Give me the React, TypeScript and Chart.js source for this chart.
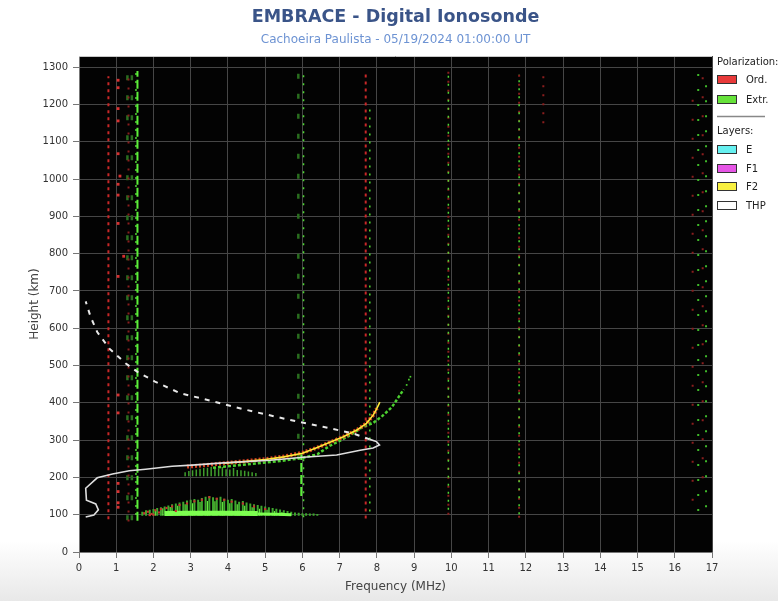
import React, { useEffect, useRef } from "react";
import { Chart, registerables } from "chart.js";
Chart.register(...registerables);

// ---- tick labels ----
const xTicks = [0, 1, 2, 3, 4, 5, 6, 7, 8, 9, 10, 11, 12, 13, 14, 15, 16, 17];
const yTicks = [0, 100, 200, 300, 400, 500, 600, 700, 800, 900, 1000, 1100, 1200, 1300];

// ---- THP (true height profile) ----
const thpSolidFreq = [0.18, 0.4, 0.52, 0.45, 0.2, 0.18, 0.49, 0.9, 1.35, 1.79, 2.5, 3.04, 3.88, 5.13, 6.02, 6.92, 7.55, 7.9, 8.07, 7.99, 7.81];
const thpSolidHeight = [94, 99, 113, 129, 139, 171, 199, 209, 218, 222, 230, 233, 239, 246, 254, 260, 273, 279, 287, 296, 302];
const thpDashFreq = [7.81, 7.36, 6.55, 5.58, 4.41, 3.52, 2.71, 2.04, 1.57, 1.25, 0.81, 0.49, 0.31, 0.18];
const thpDashHeight = [302, 318, 336, 356, 383, 406, 426, 457, 483, 506, 546, 590, 631, 672];

// ---- F2 layer trace ----
const f2Freq = [3.9, 4.5, 5.0, 5.5, 6.0, 6.4, 6.74, 7.1, 7.46, 7.72, 7.9, 8.0, 8.08];
const f2Height = [238, 243, 248, 255, 265, 280, 294, 309, 327, 345, 367, 385, 402];

// ---- ordinary / extraordinary echo traces ----
const oEchoFreq = [2.9, 3.3, 3.7, 4.1, 4.5, 5.0, 5.5, 6.0, 6.4, 6.74, 7.1, 7.46, 7.72, 7.9, 8.0];
const oEchoHeight = [229, 232, 236, 240, 244, 249, 256, 266, 280, 294, 309, 327, 345, 367, 385];
const xEchoFreq = [3.6, 4.2, 4.8, 5.4, 6.0, 6.4, 6.74, 7.0, 7.28, 7.63, 7.9, 8.15, 8.4, 8.6, 8.72];
const xEchoHeight = [226, 232, 238, 244, 252, 262, 285, 298, 313, 336, 346, 365, 388, 418, 436];
const xSparseFreq = [8.8, 8.86, 8.9];
const xSparseHeight = [448, 462, 470];

// ---- E layer echoes ----
const eBase = 97;
const eFreq = [1.7, 1.8, 1.9, 2.0, 2.1, 2.2, 2.3, 2.4, 2.5, 2.6, 2.7, 2.8, 2.9, 3.0, 3.1, 3.2, 3.3, 3.4, 3.5, 3.6, 3.7, 3.8, 3.9, 4.0, 4.1, 4.2, 4.3, 4.4, 4.5, 4.6, 4.7, 4.8, 4.9, 5.0, 5.1, 5.2, 5.3, 5.4, 5.5, 5.6, 5.7, 5.8, 5.9, 6.0, 6.1, 6.2, 6.3, 6.4];
const eTop = [108, 112, 113, 115, 118, 120, 122, 125, 128, 130, 133, 135, 138, 140, 142, 140, 145, 148, 150, 147, 145, 148, 143, 140, 142, 138, 135, 137, 133, 130, 128, 126, 124, 122, 120, 118, 116, 114, 112, 110, 108, 106, 105, 104, 104, 103, 103, 102];
const eMidFreq = [2.05, 2.25, 2.45, 2.65, 2.85, 3.05, 3.25, 3.45, 3.65, 3.85, 4.05, 4.25, 4.45, 4.65, 4.85, 5.05, 5.25, 5.45];
const eMidTop = [112, 117, 121, 124, 128, 131, 134, 137, 136, 134, 131, 128, 124, 120, 116, 113, 110, 107];
const eBandFreq = [2.3, 3.0, 4.0, 4.8];
const eBandHeight = [103, 104, 104, 103];
const eTailFreq = [4.8, 5.3, 5.7];
const eTailHeight = [102, 101, 100];
const eRedFreq = [1.75, 1.85, 1.95, 2.05, 2.2, 2.35, 2.5, 2.7, 2.9, 3.1, 3.3, 3.5, 3.7, 3.9, 4.1, 4.4, 4.7, 5.0, 2.15, 2.6, 1.9, 2.0];
const eRedHeight = [104, 108, 102, 112, 115, 118, 122, 126, 130, 136, 140, 147, 143, 140, 135, 130, 122, 115, 106, 110, 99, 100];

// ---- F layer bottom (spread) echoes ----
const fsBase = 203;
const fsFreq = [2.85, 2.95, 3.05, 3.15, 3.25, 3.35, 3.45, 3.55, 3.65, 3.75, 3.85, 3.95, 4.05, 4.15, 4.25, 4.35, 4.45, 4.55, 4.65, 4.75];
const fsTop = [214, 217, 219, 221, 223, 225, 226, 228, 226, 224, 228, 222, 221, 225, 220, 219, 218, 216, 214, 212];

// ---- interference columns ----
const ordColFreq = [0.79, 7.7];
const ordColLow = [88, 90];
const ordColHigh = [1276, 1290];
const ordFaintFreq = [1.33, 9.92, 11.82, 12.47];
const ordFaintLow = [82, 100, 92, 1150];
const ordFaintHigh = [1285, 1288, 1283, 1290];
const ordSparseFreq = [16.48, 16.75];
const ordSparseLow = [100, 160];
const ordSparseHigh = [1240, 1290];
const ordSquareFreq = [1.05, 1.05, 1.05, 1.05, 1.05, 1.1, 1.05, 1.05, 1.05, 1.2, 1.05, 1.05, 1.05, 1.05, 1.05, 1.05, 1.05];
const ordSquareHeight = [1265, 1245, 1189, 1156, 1068, 1008, 986, 957, 881, 793, 739, 421, 373, 184, 162, 132, 120];
const extBrightFreq = [1.57, 5.97];
const extBrightLow = [84, 150];
const extBrightHigh = [1290, 262];
const extDotFreq = [1.53, 6.03, 7.81, 9.92, 11.82];
const extDotLow = [86, 80, 95, 100, 88];
const extDotHigh = [1290, 1290, 1200, 1288, 1282];
const extSparseFreq = [16.63, 16.84];
const extSparseLow = [110, 120];
const extSparseHigh = [1290, 1280];
const extDarkFreq = [1.3, 1.42, 5.89];
const extDarkLow = [85, 85, 250];
const extDarkHigh = [1290, 1290, 1290];

const seg = (f: number[], lo: number[], hi: number[]) => {
  const out: any[] = [];
  f.forEach((x, i) => {
    out.push({ x, y: lo[i] }, { x, y: hi[i] }, { x, y: null });
  });
  return out;
};
const pts = (f: number[], h: number[]) => f.map((x, i) => ({ x, y: h[i] }));

const FONT = '"DejaVu Sans", "Liberation Sans", sans-serif';

const decorPlugin = {
  id: "decor",
  beforeDraw(chart: any) {
    const { ctx, chartArea: a } = chart;
    ctx.save();
    ctx.fillStyle = "#030303";
    ctx.fillRect(a.left, a.top, a.right - a.left, a.bottom - a.top);
    ctx.restore();
  },
  afterDraw(chart: any) {
    const { ctx, chartArea: a } = chart;
    ctx.save();
    ctx.strokeStyle = "#c8c8c8";
    ctx.lineWidth = 1;
    ctx.beginPath();
    ctx.moveTo(a.left, a.top + 0.5);
    ctx.lineTo(a.right, a.top + 0.5);
    ctx.stroke();
    const cx = (a.left + a.right) / 2;
    ctx.textAlign = "center";
    ctx.textBaseline = "middle";
    ctx.fillStyle = "#3a5488";
    ctx.font = `bold 17.5px ${FONT}`;
    ctx.fillText("EMBRACE - Digital Ionosonde", cx, 17);
    ctx.fillStyle = "#6d93d3";
    ctx.font = `12px ${FONT}`;
    ctx.fillText("Cachoeira Paulista - 05/19/2024 01:00:00 UT", cx, 40);
    ctx.textAlign = "left";
    ctx.font = `10px ${FONT}`;
    ctx.fillStyle = "#222";
    const lx = 717;
    ctx.fillText("Polarization:", lx, 62);
    const box = (y: number, c: string, label: string) => {
      ctx.fillStyle = c;
      ctx.fillRect(lx + 0.5, y + 0.5, 19, 8);
      ctx.strokeStyle = "#333";
      ctx.lineWidth = 1;
      ctx.strokeRect(lx + 0.5, y + 0.5, 19, 8);
      ctx.fillStyle = "#222";
      ctx.fillText(label, 746, y + 5);
    };
    box(75, "#e83a3a", "Ord.");
    box(95, "#66e23a", "Extr.");
    ctx.strokeStyle = "#888";
    ctx.lineWidth = 1.5;
    ctx.beginPath();
    ctx.moveTo(lx, 116.5);
    ctx.lineTo(765, 116.5);
    ctx.stroke();
    ctx.fillStyle = "#222";
    ctx.fillText("Layers:", lx, 131);
    box(145, "#66f0f0", "E");
    box(164, "#e655e6", "F1");
    box(182, "#f8f040", "F2");
    box(201, "#ffffff", "THP");
    ctx.restore();
  },
};

export default function App() {
  const ref = useRef<HTMLCanvasElement>(null);
  useEffect(() => {
    if (!ref.current) return;
    const lineDs = (data: any[], color: string, width: number, dash: number[] = [], order = 10, dashOffset = 0) => ({
      data,
      showLine: true,
      borderColor: color,
      backgroundColor: color,
      borderWidth: width,
      borderDash: dash,
      borderDashOffset: dashOffset,
      pointRadius: 0,
      spanGaps: false,
      borderCapStyle: "butt",
      order,
    });
    const chart = new Chart(ref.current, {
      type: "scatter",
      data: {
        datasets: [
          lineDs(seg(extDarkFreq, extDarkLow, extDarkHigh), "#2a6e1f", 2.5, [5, 15], 30),
          lineDs(seg(ordFaintFreq, ordFaintLow, ordFaintHigh), "#8a1e1e", 2, [2, 7], 29),
          lineDs(seg(ordSparseFreq, ordSparseLow, ordSparseHigh), "#8a1e1e", 2, [2, 17], 29, 5),
          lineDs(seg(extDotFreq, extDotLow, extDotHigh), "#4fd634", 1.5, [2, 6], 28, 3),
          lineDs(seg(extSparseFreq, extSparseLow, extSparseHigh), "#3fb82a", 2, [2, 13], 28),
          lineDs(seg(extBrightFreq, extBrightLow, extBrightHigh), "#5cf03a", 2, [9, 3], 27),
          lineDs(seg(ordColFreq, ordColLow, ordColHigh), "#c82828", 2, [3, 4], 26),
          {
            data: pts(ordSquareFreq, ordSquareHeight),
            pointStyle: "rect",
            pointRadius: 2,
            backgroundColor: "#d83030",
            borderWidth: 0,
            order: 25,
          },
          lineDs(seg(eFreq, eFreq.map(() => eBase), eTop), "#3ea82d", 2, [], 21),
          lineDs(seg(eMidFreq, eMidFreq.map(() => eBase), eMidTop), "#66e83f", 1.2, [], 20),
          lineDs(pts(eBandFreq, eBandHeight), "#7dff50", 5, [], 19),
          lineDs(pts(eTailFreq, eTailHeight), "#7dff50", 3, [], 19),
          {
            data: pts(eRedFreq, eRedHeight),
            pointStyle: "rect",
            pointRadius: 1.5,
            backgroundColor: "#c83030",
            borderWidth: 0,
            order: 18,
          },
          lineDs(seg(fsFreq, fsFreq.map(() => fsBase), fsTop), "#3f9e2c", 1.5, [], 17),
          lineDs(pts(xEchoFreq, xEchoHeight), "#4cd030", 2.5, [3, 2], 8),
          {
            data: pts(xSparseFreq, xSparseHeight),
            pointStyle: "rect",
            pointRadius: 1.2,
            backgroundColor: "#4cd030",
            borderWidth: 0,
            order: 8,
          },
          lineDs(pts(oEchoFreq, oEchoHeight), "#d04020", 4, [2, 2], 7),
          lineDs(pts(f2Freq, f2Height), "#ffe838", 1.6, [], 3),
          lineDs(pts(thpSolidFreq, thpSolidHeight), "#dedede", 1.6, [], 1),
          lineDs(pts(thpDashFreq, thpDashHeight), "#e8e8e8", 2, [5, 6], 1),
        ] as any,
      },
      options: {
        animation: false,
        responsive: false,
        events: [],
        layout: { padding: { top: 56, right: 66, bottom: 0, left: 0 } },
        plugins: { legend: { display: false }, tooltip: { enabled: false }, title: { display: false } },
        scales: {
          x: {
            type: "linear",
            min: 0,
            max: 17,
            afterBuildTicks: (s: any) => {
              s.ticks = xTicks.map((v) => ({ value: v }));
            },
            afterFit: (s: any) => {
              s.height = 49;
            },
            ticks: { color: "#333", font: { size: 10, family: FONT }, padding: 4, autoSkip: false, maxRotation: 0, callback: (v: any) => String(v) },
            grid: { color: "#464646", tickColor: "#777", tickLength: 6 },
            border: { color: "#777" },
            title: { display: true, text: "Frequency (MHz)", color: "#444", font: { size: 12, family: FONT }, padding: { top: 0, bottom: 7 } },
          },
          y: {
            type: "linear",
            min: 0,
            max: 1330,
            afterBuildTicks: (s: any) => {
              s.ticks = yTicks.map((v) => ({ value: v }));
            },
            afterFit: (s: any) => {
              s.width = 79;
            },
            ticks: { color: "#333", font: { size: 10, family: FONT }, padding: 5, autoSkip: false, callback: (v: any) => String(v) },
            grid: { color: "#464646", tickColor: "#777", tickLength: 6 },
            border: { color: "#777" },
            title: { display: true, text: "Height (km)", color: "#444", font: { size: 12, family: FONT }, padding: { top: 28, bottom: 0 } },
          },
        },
      } as any,
      plugins: [decorPlugin],
    });
    return () => chart.destroy();
  }, []);
  return (
    <div
      style={{
        position: "absolute",
        left: 0,
        top: 0,
        width: 778,
        height: 601,
        background: "linear-gradient(to bottom, #ffffff 0%, #ffffff 90%, #e8e8e8 100%)",
      }}
    >
      <canvas ref={ref} width={778} height={601} style={{ display: "block" }} />
    </div>
  );
}
